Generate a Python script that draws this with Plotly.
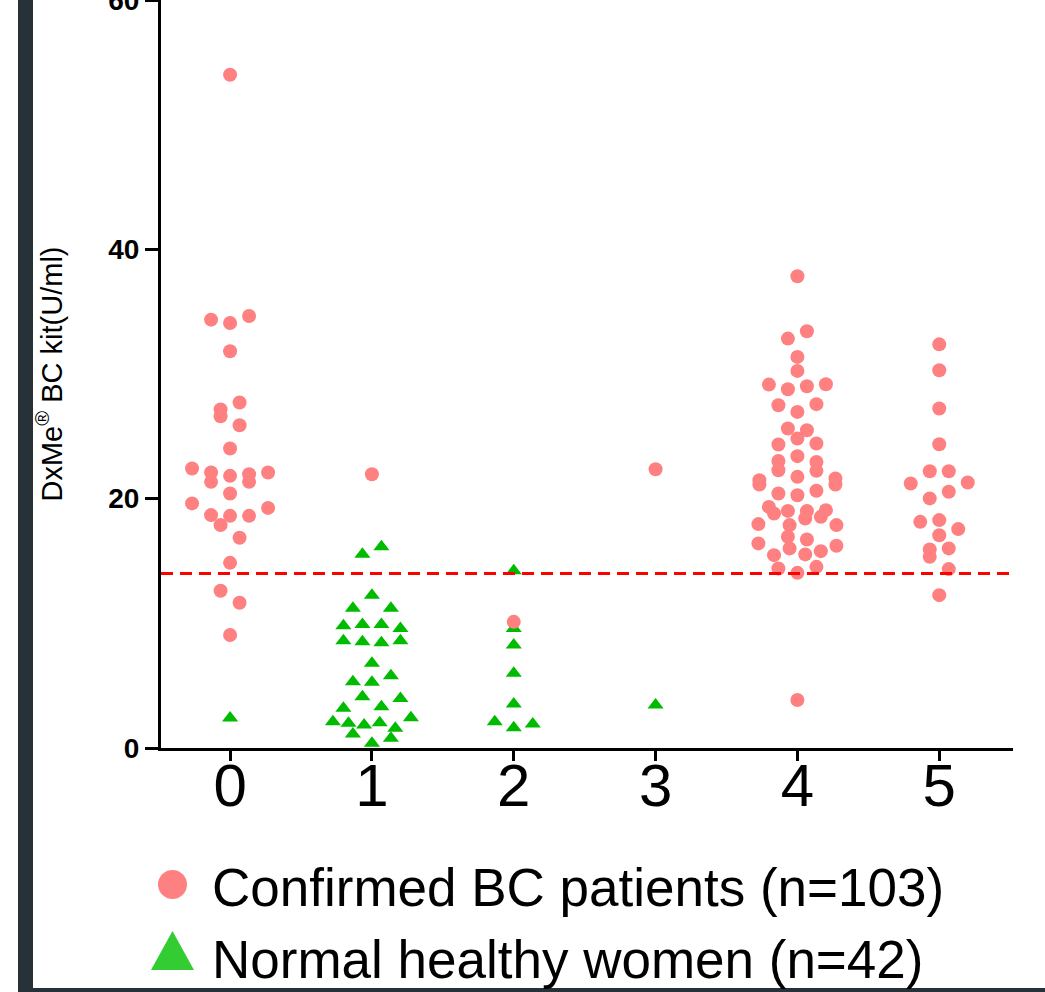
import numpy as np
import plotly.graph_objects as go

# ---------------- data ----------------
categories = [0, 1, 2, 3, 4, 5]
tick_labels = ["0", "1", "2", "3", "4", "5"]

bc_name = "Confirmed BC patients (n=103)"
nh_name = "Normal healthy women (n=42)"

bc_0 = [54.0, 34.36, 34.09, 34.65, 31.82, 27.15, 27.71, 26.61, 25.89, 24.02,
        22.42, 22.10, 21.83, 21.96, 22.10, 21.35, 20.42, 21.35, 19.62, 18.68,
        18.62, 18.62, 19.26, 17.88, 16.86, 14.85, 12.61, 11.65, 9.06]
bc_1 = [21.96]
bc_2 = [10.12]
bc_3 = [22.36]
bc_4 = [16.41, 23.03, 21.48, 19.34, 29.15, 25.63, 17.96, 15.47, 21.14, 19.02,
        16.01, 27.49, 24.34, 22.28, 20.42, 18.81, 32.84, 31.37, 28.78, 17.88,
        14.40, 15.53, 37.84, 26.96, 24.82, 23.41, 21.75, 20.28, 18.41, 3.85,
        15.79, 33.43, 29.02, 16.94, 14.05, 20.63, 18.54, 30.25, 27.58, 24.42,
        22.23, 21.14, 19.02, 16.22, 29.18, 25.49, 17.88, 14.53, 22.95, 21.62,
        19.08, 16.73]
bc_5 = [21.22, 18.14, 17.07, 22.2, 20.02, 15.34, 32.38, 30.30, 27.23, 24.37,
        17.56, 15.93, 12.26, 22.2, 20.55, 14.35, 18.28, 16.01, 21.3]

nh_0 = [2.4]
nh_1 = [9.8, 3.18, 11.2, 5.31, 1.12, 8.6, 2.11, 4.11, 15.55, 9.91, 0.38, 8.52,
        1.98, 12.26, 6.79, 5.27, 3.31, 8.44, 1.84, 16.14, 9.91, 0.78, 5.8, 3.98,
        8.6, 2.03, 11.2, 1.58, 2.43, 9.59]
nh_2 = [2.11, 9.59, 14.21, 5.99, 3.53, 1.63, 8.26, 1.92]
nh_3 = [3.45]
nh_4 = []
nh_5 = []

cutoff = 14.0

bc_groups = [bc_0, bc_1, bc_2, bc_3, bc_4, bc_5]
nh_groups = [nh_0, nh_1, nh_2, nh_3, nh_4, nh_5]

# ---------------- styling / layout constants ----------------
W, H = 1045, 992
M_L, M_R, M_T, M_B = 161, 32, 0, 244
FONT = "Liberation Sans, Arial, sans-serif"
BC_COLOR = "#FF8080"
NH_COLOR = "#00BB00"
NH_LEGEND_COLOR = "#33CC33"
FRAME = "#263238"


def swarm_offsets(values, tol=1.1, step=0.134, max_span=0.55):
    """Prism-like scatter-dot layout: values close in y share a row and are
    spread horizontally, centred on the category."""
    vals = np.asarray(values, dtype=float)
    offs = np.zeros(len(vals))
    order = np.argsort(vals, kind="stable")
    i = 0
    while i < len(order):
        start = vals[order[i]]
        j = i
        while j < len(order) and vals[order[j]] - start < tol:
            j += 1
        members = sorted(order[i:j])
        k = len(members)
        s = step if k < 2 else min(step, max_span / (k - 1))
        for n, idx in enumerate(members):
            offs[idx] = (n - (k - 1) / 2.0) * s
        i = j
    return offs


def build_xy(groups):
    xs, ys = [], []
    for cat, vals in zip(categories, groups):
        if not vals:
            continue
        offs = swarm_offsets(vals)
        xs.extend(cat + offs)
        ys.extend(vals)
    return xs, ys


bx, by = build_xy(bc_groups)
nx, ny = build_xy(nh_groups)

fig = go.Figure()
fig.add_trace(go.Scatter(
    x=nx, y=ny, mode="markers", name=nh_name, showlegend=False,
    marker=dict(symbol="triangle-up", size=14, color=NH_COLOR, line=dict(width=0)),
))
fig.add_trace(go.Scatter(
    x=bx, y=by, mode="markers", name=bc_name, showlegend=False,
    marker=dict(symbol="circle", size=14, color=BC_COLOR, line=dict(width=0)),
))
# legend entries (legend symbols coloured like the reference key)
fig.add_trace(go.Scatter(
    x=[None], y=[None], mode="markers", name=bc_name, legendrank=1,
    marker=dict(symbol="circle", size=14, color=BC_COLOR, line=dict(width=0)),
))
fig.add_trace(go.Scatter(
    x=[None], y=[None], mode="markers", name=nh_name, legendrank=2,
    marker=dict(symbol="triangle-up", size=14, color=NH_LEGEND_COLOR, line=dict(width=0)),
))

# cutoff line
fig.add_shape(type="line", xref="paper", yref="y", x0=0, x1=1, y0=cutoff, y1=cutoff,
              line=dict(color="#FF0000", width=3, dash="12px,7px"), layer="above")

pw = W - M_L - M_R
ph = H - M_T - M_B


def px_x(p):
    return (p - M_L) / pw


def px_y(p):
    return (H - M_B - p) / ph


# dark frame (left and bottom edges of the original figure panel)
fig.add_shape(type="rect", xref="paper", yref="paper",
              x0=px_x(18), x1=px_x(33), y0=px_y(995), y1=px_y(-5),
              fillcolor=FRAME, line=dict(width=0), layer="above")
fig.add_shape(type="rect", xref="paper", yref="paper",
              x0=px_x(18), x1=px_x(1050), y0=px_y(995), y1=px_y(988),
              fillcolor=FRAME, line=dict(width=0), layer="above")

# enlarged legend symbols (plotly caps legend symbol size)
LEG_X = 172.5
fig.add_shape(type="circle", xref="paper", yref="paper",
              x0=px_x(LEG_X - 14.5), x1=px_x(LEG_X + 14.5),
              y0=px_y(884.5 + 14.5), y1=px_y(884.5 - 14.5),
              fillcolor=BC_COLOR, line=dict(width=0), layer="above")
tri = "M {:.5f},{:.5f} L {:.5f},{:.5f} L {:.5f},{:.5f} Z".format(
    px_x(LEG_X - 21.5), px_y(970), px_x(LEG_X + 21.5), px_y(970),
    px_x(LEG_X), px_y(931))
fig.add_shape(type="path", xref="paper", yref="paper", path=tri,
              fillcolor=NH_LEGEND_COLOR, line=dict(width=0), layer="above")

fig.update_layout(
    width=W, height=H,
    margin=dict(l=M_L, r=M_R, t=M_T, b=M_B, pad=0, autoexpand=False),
    paper_bgcolor="white", plot_bgcolor="white",
    font=dict(family=FONT, color="black"),
    showlegend=True,
    legend=dict(
        x=px_x(132), xanchor="left", y=px_y(921), yanchor="middle",
        font=dict(family=FONT, size=53, color="black"),
        itemwidth=70, itemsizing="constant", bgcolor="rgba(0,0,0,0)",
        borderwidth=0, tracegroupgap=0,
    ),
    xaxis=dict(
        range=[-0.487, 5.52], tickmode="array", tickvals=categories, ticktext=tick_labels,
        showline=True, linecolor="black", linewidth=3,
        ticks="outside", ticklen=10, tickwidth=3, tickcolor="black",
        tickfont=dict(family=FONT, size=60, color="black"),
        ticklabelstandoff=-27, automargin=False,
        showgrid=False, zeroline=False,
    ),
    yaxis=dict(
        range=[0, 60], tickmode="array", tickvals=[0, 20, 40, 60],
        showline=True, linecolor="black", linewidth=3,
        ticks="outside", ticklen=13, tickwidth=3, tickcolor="black",
        tickfont=dict(family=FONT, size=28, color="black", weight="bold"),
        ticklabelstandoff=0, ticklabeloverflow="allow", automargin=False,
        showgrid=False, zeroline=False,
        title=dict(text="DxMe<sup>®</sup> BC kit(U/ml)", standoff=38,
                   font=dict(family=FONT, size=29, color="black")),
    ),
)

fig.write_html("out.html", config={"displayModeBar": False},
               post_script="document.body.style.margin='0px';")
